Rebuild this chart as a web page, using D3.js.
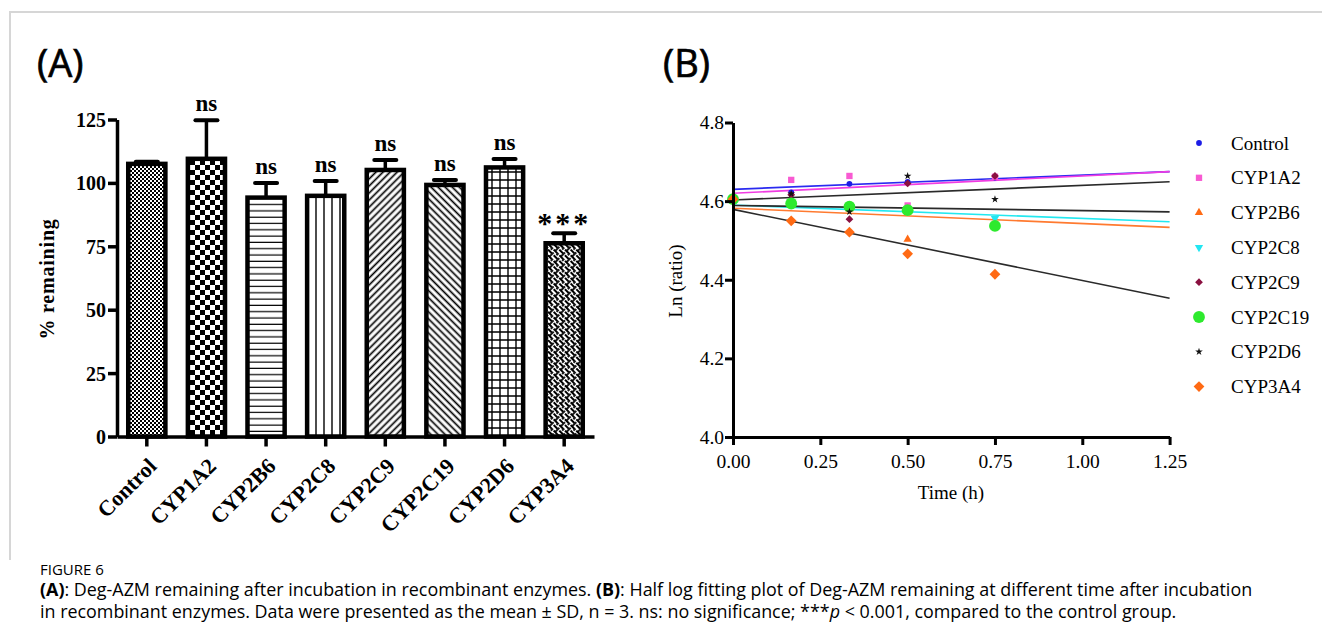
<!DOCTYPE html>
<html>
<head>
<meta charset="utf-8">
<script src="https://cdn.jsdelivr.net/npm/d3@7"></script>
<style>
  body { margin: 0; background: #fff; }
  svg text { font-family: "Liberation Serif", "Times New Roman", serif; fill: #000; }
  svg text.cap { font-family: "Open Sans", sans-serif; }
</style>
</head>
<body>
<script>
// ---- panel A data: % remaining after incubation
const enzymes = ["Control", "CYP1A2", "CYP2B6", "CYP2C8", "CYP2C9", "CYP2C19", "CYP2D6", "CYP3A4"];
const remaining = [107.5, 109.5, 94.2, 94.9, 105.1, 99.2, 106.1, 76.2];
const remainingSD = [0.8, 15.2, 5.8, 5.8, 3.9, 1.9, 3.3, 3.9];
const signif = ["", "ns", "ns", "ns", "ns", "ns", "ns", "***"];
const yTicksA = [0, 25, 50, 75, 100, 125];

// ---- panel B data: ln(ratio) vs time (h)
const times = [0, 1 / 6, 1 / 3, 0.5, 0.75];
const lnControl = [4.605, 4.622, 4.644, 4.649, 4.660];
const lnCYP1A2 = [4.605, 4.654, 4.664, 4.589, 4.662];
const lnCYP2B6 = [4.605, 4.590, 4.580, 4.503, 4.540];
const lnCYP2C8 = [4.605, 4.595, 4.585, 4.580, 4.556];
const lnCYP2C9 = [4.605, 4.616, 4.554, 4.645, 4.664];
const lnCYP2C19 = [4.605, 4.594, 4.586, 4.577, 4.537];
const lnCYP2D6 = [4.605, 4.619, 4.573, 4.664, 4.605];
const lnCYP3A4 = [4.605, 4.550, 4.521, 4.466, 4.414];
// fitted lines (intercept, slope per h); CYP2C19 has none drawn
const fitIntercept = [4.630, 4.620, 4.582, 4.590, 4.603, null, 4.589, 4.579];
const fitSlope = [0.036, 0.044, -0.039, -0.034, 0.037, null, -0.013, -0.181];
const xTicksB = [0, 0.25, 0.5, 0.75, 1.0, 1.25];
const yTicksB = [4.0, 4.2, 4.4, 4.6, 4.8];

const seriesB = [lnControl, lnCYP1A2, lnCYP2B6, lnCYP2C8, lnCYP2C9, lnCYP2C19, lnCYP2D6, lnCYP3A4];
const markColor = ["#1c1ce6", "#f85ad2", "#ff6a14", "#22e6f2", "#8a1040", "#2eea2e", "#111111", "#ff6a14"];
const lineColor = ["#2a2af0", "#f03ce2", "#ff7a30", "#22e8f0", "#2a2a2a", null, "#2a2a2a", "#2a2a2a"];
const markShape = [d3.symbolCircle, d3.symbolSquare, d3.symbolTriangle, d3.symbolTriangle,
                   d3.symbolSquare, d3.symbolCircle, d3.symbolStar, d3.symbolSquare];
const markSize = [26, 40, 30, 30, 30, 110, 18, 58];
const markRot = [0, 0, 0, 180, 45, 0, 0, 45];

const width = 1322, height = 644;
const svg = d3.select("body").append("svg")
    .attr("width", width)
    .attr("height", height);

// light frame round the figure image
svg.append("path")
    .attr("d", "M10,560 V12 H1322")
    .attr("fill", "none")
    .attr("stroke", "#d6d6d6")
    .attr("stroke-width", 2);

// ---- fill patterns for the bars
const defs = svg.append("defs");
function pat(id, w, h) {
  return defs.append("pattern").attr("id", id)
      .attr("patternUnits", "userSpaceOnUse")
      .attr("width", w).attr("height", h);
}
let p;
p = pat("p0", 4, 4);
p.append("rect").attr("width", 4).attr("height", 4).attr("fill", "#fff");
p.append("rect").attr("width", 2).attr("height", 2).attr("fill", "#000");
p.append("rect").attr("x", 2).attr("y", 2).attr("width", 2).attr("height", 2).attr("fill", "#000");

p = pat("p1", 10, 10);
p.append("rect").attr("width", 10).attr("height", 10).attr("fill", "#fff");
p.append("rect").attr("width", 5).attr("height", 5).attr("fill", "#000");
p.append("rect").attr("x", 5).attr("y", 5).attr("width", 5).attr("height", 5).attr("fill", "#000");

p = pat("p2", 6, 6.3);
p.append("rect").attr("width", 6).attr("height", 6.3).attr("fill", "#fff");
p.append("line").attr("x1", 0).attr("x2", 6).attr("y1", 3).attr("y2", 3).attr("stroke", "#000").attr("stroke-width", 1.2);

p = pat("p3", 8, 6);
p.append("rect").attr("width", 8).attr("height", 6).attr("fill", "#fff");
p.append("line").attr("x1", 4).attr("x2", 4).attr("y1", 0).attr("y2", 6).attr("stroke", "#000").attr("stroke-width", 1.4);

p = pat("p4", 5, 5).attr("patternTransform", "rotate(45)");
p.append("rect").attr("width", 5).attr("height", 5).attr("fill", "#fff");
p.append("line").attr("x1", 2.5).attr("x2", 2.5).attr("y1", 0).attr("y2", 5).attr("stroke", "#000").attr("stroke-width", 1.7);

p = pat("p5", 5, 5).attr("patternTransform", "rotate(-45)");
p.append("rect").attr("width", 5).attr("height", 5).attr("fill", "#fff");
p.append("line").attr("x1", 2.5).attr("x2", 2.5).attr("y1", 0).attr("y2", 5).attr("stroke", "#000").attr("stroke-width", 1.7);

p = pat("p6", 8, 8);
p.append("rect").attr("width", 8).attr("height", 8).attr("fill", "#fff");
p.append("path").attr("d", "M0,4H8M4,0V8").attr("stroke", "#000").attr("stroke-width", 1.4);

p = pat("p7", 8, 8).attr("patternTransform", "rotate(45)");
p.append("rect").attr("width", 8).attr("height", 8).attr("fill", "#fff");
p.append("path").attr("d", "M0,1H5M4,5H8M0,5H1M6,0V3M2,3V8").attr("stroke", "#000").attr("stroke-width", 1.8);

// ================= Panel A =================
const xA = d3.scaleBand().domain(enzymes).range([117, 594]).paddingInner(0.31).paddingOuter(0.155);
const yA = d3.scaleLinear().domain([0, 125]).range([436.5, 119.5]);
const gA = svg.append("g");

gA.append("text").attr("class", "cap")
    .attr("x", 37).attr("y", 77)
    .attr("font-size", 38)
    .attr("stroke", "#000").attr("stroke-width", 0.7)
    .text("(A)");

// bars
gA.selectAll("rect.bar")
    .data(enzymes)
    .join("rect")
    .attr("class", "bar")
    .attr("x", d => xA(d) + 2)
    .attr("width", xA.bandwidth() - 4)
    .attr("y", (d, i) => yA(remaining[i]))
    .attr("height", (d, i) => yA(0) - yA(remaining[i]))
    .attr("fill", (d, i) => `url(#p${i})`)
    .attr("stroke", "#000")
    .attr("stroke-width", 4.5);

// error bars (upper only)
const eb = gA.selectAll("g.err").data(enzymes).join("g").attr("class", "err");
eb.append("line")
    .attr("x1", d => xA(d) + xA.bandwidth() / 2)
    .attr("x2", d => xA(d) + xA.bandwidth() / 2)
    .attr("y1", (d, i) => yA(remaining[i]))
    .attr("y2", (d, i) => yA(remaining[i] + remainingSD[i]))
    .attr("stroke", "#000").attr("stroke-width", 3.5);
eb.append("line")
    .attr("x1", d => xA(d) + xA.bandwidth() / 2 - 11)
    .attr("x2", d => xA(d) + xA.bandwidth() / 2 + 11)
    .attr("y1", (d, i) => yA(remaining[i] + remainingSD[i]))
    .attr("y2", (d, i) => yA(remaining[i] + remainingSD[i]))
    .attr("stroke", "#000").attr("stroke-width", 4).attr("stroke-linecap", "round");

// significance marks
gA.selectAll("text.sig")
    .data(enzymes)
    .join("text")
    .attr("class", "sig")
    .attr("x", d => xA(d) + xA.bandwidth() / 2)
    .attr("y", (d, i) => yA(remaining[i] + remainingSD[i]) - (signif[i] === "***" ? 0 : 9))
    .attr("text-anchor", "middle")
    .attr("font-weight", "bold")
    .attr("font-size", (d, i) => signif[i] === "***" ? 30 : 23)
    .attr("letter-spacing", (d, i) => signif[i] === "***" ? 3 : 0)
    .text((d, i) => signif[i]);

// axes
const axA = gA.append("g")
    .attr("transform", "translate(117,0)")
    .call(d3.axisLeft(yA).tickValues(yTicksA).tickSize(9).tickSizeOuter(0).tickPadding(2));
axA.selectAll("text").attr("font-size", 20).attr("font-weight", "bold")
    .attr("font-family", "Liberation Serif, serif").attr("dy", "0.35em");

const axAx = gA.append("g")
    .attr("transform", `translate(0,${yA(0)})`)
    .call(d3.axisBottom(xA).tickSize(10).tickSizeOuter(0));
axAx.selectAll("text").remove();
[axA, axAx].forEach(a => {
  a.select(".domain").attr("stroke-width", 3.5);
  a.selectAll(".tick line").attr("stroke-width", 3.5);
});

gA.selectAll("text.xlab")
    .data(enzymes)
    .join("text")
    .attr("class", "xlab")
    .attr("transform", d => `translate(${xA(d) + xA.bandwidth() / 2 + 11},${yA(0) + 31}) rotate(-45)`)
    .attr("text-anchor", "end")
    .attr("font-weight", "bold")
    .attr("font-size", 22)
    .text(d => d);

gA.append("text")
    .attr("transform", "translate(54,279) rotate(-90)")
    .attr("text-anchor", "middle")
    .attr("font-weight", "bold")
    .attr("font-size", 20)
    .attr("letter-spacing", 0.8)
    .text("% remaining");

// ================= Panel B =================
const xB = d3.scaleLinear().domain([0, 1.25]).range([733, 1169.6]);
const yB = d3.scaleLinear().domain([4.0, 4.8]).range([437, 122.5]);
const gB = svg.append("g");

gB.append("text").attr("class", "cap")
    .attr("x", 663).attr("y", 77)
    .attr("font-size", 38)
    .attr("stroke", "#000").attr("stroke-width", 0.7)
    .text("(B)");

// fitted lines
const fits = enzymes.map((e, i) => ({ i, b: fitIntercept[i], m: fitSlope[i] })).filter(f => f.b !== null);
gB.selectAll("line.fit")
    .data(fits)
    .join("line")
    .attr("class", "fit")
    .attr("x1", xB(0)).attr("x2", xB(1.25))
    .attr("y1", f => yB(f.b))
    .attr("y2", f => yB(f.b + f.m * 1.25))
    .attr("stroke", f => lineColor[f.i])
    .attr("stroke-width", 1.6);

// points
seriesB.forEach((vals, i) => {
  gB.selectAll(null)
      .data(vals)
      .join("path")
      .attr("d", d3.symbol(markShape[i], markSize[i]))
      .attr("transform", (d, j) => `translate(${xB(times[j])},${yB(d)}) rotate(${markRot[i]})`)
      .attr("fill", markColor[i]);
});

// axes
const axB = gB.append("g")
    .attr("transform", `translate(${xB(0)},0)`)
    .call(d3.axisLeft(yB).tickValues(yTicksB).tickFormat(d3.format(".1f")).tickSize(8).tickSizeOuter(0).tickPadding(1));
const axBx = gB.append("g")
    .attr("transform", `translate(0,${yB(4.0)})`)
    .call(d3.axisBottom(xB).tickValues(xTicksB).tickFormat(d3.format(".2f")).tickSize(8).tickSizeOuter(0).tickPadding(9));
[axB, axBx].forEach(a => {
  a.select(".domain").attr("stroke-width", 3);
  a.selectAll(".tick line").attr("stroke-width", 3);
  a.selectAll("text").attr("font-size", 19.5).attr("font-family", "Liberation Serif, serif").attr("fill", "#222");
});

gB.append("text")
    .attr("x", 951).attr("y", 499)
    .attr("text-anchor", "middle")
    .attr("font-size", 19)
    .attr("fill", "#222")
    .text("Time (h)");

gB.append("text")
    .attr("transform", "translate(682,281) rotate(-90)")
    .attr("text-anchor", "middle")
    .attr("font-size", 19)
    .attr("fill", "#222")
    .text("Ln (ratio)");

// legend
const leg = gB.selectAll("g.leg")
    .data(enzymes)
    .join("g")
    .attr("class", "leg")
    .attr("transform", (d, i) => `translate(1199,${143 + i * 34.8})`);
leg.append("path")
    .attr("d", (d, i) => d3.symbol(markShape[i], markSize[i])())
    .attr("transform", (d, i) => `rotate(${markRot[i]})`)
    .attr("fill", (d, i) => markColor[i]);
leg.append("text")
    .attr("x", 32).attr("dy", "0.35em")
    .attr("font-size", 19)
    .attr("fill", "#222")
    .text(d => d);

// ================= caption =================
svg.append("text").attr("class", "cap")
    .attr("x", 40).attr("y", 575)
    .attr("font-size", 15).attr("fill", "#555")
    .text("FIGURE 6");

const line1 = svg.append("text").attr("class", "cap")
    .attr("x", 40).attr("y", 596)
    .attr("font-size", 17.9).attr("fill", "#444");
line1.append("tspan").attr("font-weight", "bold").text("(A)");
line1.append("tspan").text(": Deg-AZM remaining after incubation in recombinant enzymes. ");
line1.append("tspan").attr("font-weight", "bold").text("(B)");
line1.append("tspan").text(": Half log fitting plot of Deg-AZM remaining at different time after incubation");

const line2 = svg.append("text").attr("class", "cap")
    .attr("x", 40).attr("y", 618)
    .attr("font-size", 17.9).attr("fill", "#444");
line2.append("tspan").text("in recombinant enzymes. Data were presented as the mean \u00B1 SD, n = 3. ns: no significance; ***");
line2.append("tspan").attr("font-style", "italic").text("p");
line2.append("tspan").text(" < 0.001, compared to the control group.");
</script>
</body>
</html>
